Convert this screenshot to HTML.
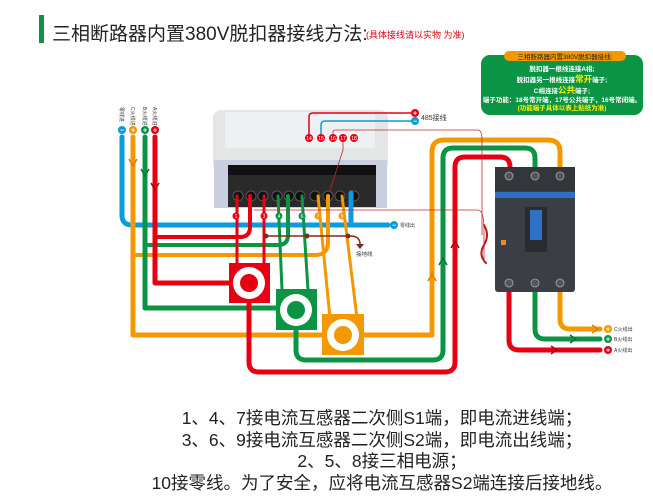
<!DOCTYPE html>
<html><head><meta charset="utf-8"><style>
html,body{margin:0;padding:0;background:#fff;width:653px;height:500px;overflow:hidden}
svg{display:block}
text{font-family:"Liberation Sans","Noto Sans CJK SC",sans-serif}
</style></head><body>
<svg width="653" height="500" viewBox="0 0 653 500" xmlns="http://www.w3.org/2000/svg">
<rect x="39" y="15" width="5" height="28" fill="#0b9444"/>
<text x="52" y="40" font-size="19" fill="#222">三相断路器内置380V脱扣器接线方法:</text>
<text x="366" y="38" font-size="9" fill="#e60012" font-family="Noto Serif CJK SC,serif">(具体接线请以实物 为准)</text>

<rect x="481" y="55" width="162" height="60" rx="9" fill="#0b9444"/>
<rect x="504" y="51" width="122" height="10" rx="5" fill="#f39800"/>
<text x="565" y="59" font-size="6.5" fill="#222" text-anchor="middle">三相断路器内置380V脱扣器接线:</text>
<g font-size="6.5" fill="#fff" text-anchor="middle" font-weight="bold">
<text x="562" y="71">脱扣器一根线连接A相;</text>
<text x="562" y="82">脱扣器另一根线连接<tspan fill="#fff100" font-size="8.5">常开</tspan>端子;</text>
<text x="562" y="93">C相连接<tspan fill="#fff100" font-size="8.5">公共</tspan>端子;</text>
<text x="562" y="102">端子功能：18号常开端，17号公共端子，16号常闭端。</text>
<text x="562" y="110" fill="#fff100">(功能端子具体以表上贴纸为准)</text>
</g>

<rect x="213" y="110" width="175" height="62" rx="8" fill="#e4e6e6"/>
<rect x="225" y="112" width="150" height="36" fill="#eef1f4"/>
<rect x="214" y="160" width="173" height="48" fill="#c9cfde"/>
<rect x="228" y="165" width="148" height="42" fill="#2a2a2a"/>
<rect x="228" y="165" width="148" height="10" fill="#111"/>
<g fill="#111" stroke="#555" stroke-width="1">
<circle cx="238" cy="196" r="5"/><circle cx="251" cy="196" r="5"/><circle cx="263" cy="196" r="5"/><circle cx="277" cy="196" r="5"/><circle cx="289" cy="196" r="5"/><circle cx="300" cy="196" r="5"/><circle cx="315" cy="196" r="5"/><circle cx="328" cy="196" r="5"/><circle cx="340" cy="196" r="5"/><circle cx="354" cy="196" r="5"/>
</g>

<g fill="none" stroke-linecap="round" stroke-linejoin="round">
<path d="M122 137 V215 Q122 225 132 225 H388" stroke="#0a9be0" stroke-width="5"/>
<path d="M351 193 V225" stroke="#0a9be0" stroke-width="5"/>
<path d="M133 137 V335 H432 Q432 335 432 325" stroke="#f39800" stroke-width="5"/>
<path d="M133 255 H315 Q328 255 328 242 V196" stroke="#f39800" stroke-width="4"/>
<path d="M432 335 V152 Q432 140 444 140 H548 Q560 140 560 152 V168" stroke="#f39800" stroke-width="5"/>
<path d="M318 196 L330 318 M342 196 L357 318" stroke="#f39800" stroke-width="3"/>
<path d="M145 137 V308 H296" stroke="#0b9444" stroke-width="5"/>
<path d="M145 245 H278 Q288 245 288 235 V196" stroke="#0b9444" stroke-width="4"/>
<path d="M296 310 V350 Q296 360 306 360 H433 Q443 360 443 350 V158 Q443 148 453 148 H525 Q535 148 535 158 V168" stroke="#0b9444" stroke-width="5"/>
<path d="M278 196 L282 290 M302 196 L308 290" stroke="#0b9444" stroke-width="3"/>
<path d="M155 137 V283 H249" stroke="#e60012" stroke-width="5"/>
<path d="M155 237 H240 Q250 237 250 227 V196" stroke="#e60012" stroke-width="4"/>
<path d="M249 283 V362 Q249 372 259 372 H445 Q455 372 455 362 V167 Q455 157 465 157 H500 Q510 157 510 167 V168" stroke="#e60012" stroke-width="5"/>
<path d="M237 196 V265 M264 196 V265" stroke="#e60012" stroke-width="3"/>
<path d="M509 290 V340 Q509 350 519 350 H600" stroke="#e60012" stroke-width="5"/>
<path d="M535 290 V329 Q535 339 545 339 H600" stroke="#0b9444" stroke-width="5"/>
<path d="M560 290 V319 Q560 329 570 329 H600" stroke="#f39800" stroke-width="5"/>
<path d="M266 236 H350 Q360 236 360 244" stroke="#7a2e1a" stroke-width="1.5"/>
<path d="M309 138 V117 Q309 113 313 113 H413" stroke="#e60012" stroke-width="1.5"/>
<path d="M321 138 V125 Q321 121 325 121 H413" stroke="#0a9be0" stroke-width="1.5"/>
<path d="M333 138 V132 Q333 130 336 130 H478 Q482 130 482 140 V235" stroke="#c1272d" stroke-width="0.8"/>
<path d="M343 138 V150 L330 190" stroke="#c1272d" stroke-width="0.8"/>
<path d="M254 210 H478 Q484 210 484 230 V262" stroke="#c1272d" stroke-width="0.8"/>
<path d="M484 225 q6 10 0 20 q-6 10 2 18" stroke="#b71c1c" stroke-width="2"/>
</g>
<g fill="#7a2e1a"><circle cx="266" cy="236" r="2.5"/><circle cx="307" cy="236" r="2.5"/><circle cx="348" cy="236" r="2.5"/></g>
<path d="M356 244 L364 244 L360 249 Z" fill="#7a2e1a"/>
<text x="356" y="256" font-size="5.5" fill="#333">接地线</text>

<g fill="none" stroke-width="1.5">
<path d="M129 159 L133 166 L137 159" stroke="#e07b00"/>
<path d="M141 169 L145 176 L149 169" stroke="#07742f"/>
<path d="M151 183 L155 190 L159 183" stroke="#b0000e"/>
<path d="M428 281 L432 274 L436 281" stroke="#e07b00"/>
<path d="M439 265 L443 258 L447 265" stroke="#07742f"/>
<path d="M451 248 L455 241 L459 248" stroke="#b0000e"/>
<path d="M592 325 L598 329 L592 333" stroke="#e07b00"/>
<path d="M570 335 L576 339 L570 343" stroke="#07742f"/>
<path d="M551 346 L557 350 L551 354" stroke="#b0000e"/>
</g>

<rect x="229" y="263" width="41" height="40" fill="#e60012"/>
<circle cx="249" cy="283" r="16" fill="#fff"/><circle cx="249" cy="283" r="9" fill="#e60012"/>
<rect x="276" y="289" width="41" height="41" fill="#0b9444"/>
<circle cx="296" cy="310" r="16" fill="#fff"/><circle cx="296" cy="310" r="9" fill="#0b9444"/>
<rect x="322" y="314" width="42" height="41" fill="#f39800"/>
<circle cx="343" cy="335" r="16" fill="#fff"/><circle cx="343" cy="335" r="9" fill="#f39800"/>

<rect x="495" y="167" width="80" height="125" rx="3" fill="#3b3e44"/>
<rect x="495" y="167" width="80" height="24" fill="#33363b"/>
<rect x="495" y="192" width="80" height="6" fill="#2f6fc6"/>
<rect x="525" y="207" width="22" height="45" fill="#2a2c30"/>
<rect x="530" y="210" width="12" height="30" fill="#2f6fc6"/>
<rect x="501" y="240" width="5" height="5" fill="#e98a2a"/>
<g fill="#555" stroke="#aaa" stroke-width="0.8">
<circle cx="509" cy="176" r="4"/><circle cx="535" cy="176" r="4"/><circle cx="560" cy="176" r="4"/>
<circle cx="509" cy="283" r="4"/><circle cx="535" cy="283" r="4"/><circle cx="560" cy="283" r="4"/>
</g>

<g font-size="7" font-weight="bold" text-anchor="middle" fill="#fff">
<circle cx="122" cy="130" r="4" fill="#0a9be0"/><text x="122" y="132.5">−</text>
<circle cx="133" cy="130" r="4" fill="#f39800"/><text x="133" y="132.5">+</text>
<circle cx="145" cy="130" r="4" fill="#0b9444"/><text x="145" y="132.5">+</text>
<circle cx="155" cy="130" r="4" fill="#e60012"/><text x="155" y="132.5">+</text>
<circle cx="415" cy="113" r="4" fill="#e60012"/><text x="415" y="115.5">+</text>
<circle cx="415" cy="121" r="4" fill="#0a9be0"/><text x="415" y="123.5">−</text>
<circle cx="394" cy="225" r="4" fill="#0a9be0"/><text x="394" y="227.5">−</text>
<circle cx="608" cy="329" r="4" fill="#f39800"/><text x="608" y="331.5">+</text>
<circle cx="608" cy="339" r="4" fill="#0b9444"/><text x="608" y="341.5">+</text>
<circle cx="608" cy="350" r="4" fill="#e60012"/><text x="608" y="352.5">+</text>
</g>
<g font-size="5" fill="#fff" text-anchor="middle">
<circle cx="309" cy="138" r="4" fill="#e60012"/><text x="309" y="140">14</text>
<circle cx="321" cy="138" r="4" fill="#e60012"/><text x="321" y="140">15</text>
<circle cx="333" cy="138" r="4" fill="#e60012"/><text x="333" y="140">16</text>
<circle cx="343" cy="138" r="4" fill="#e60012"/><text x="343" y="140">17</text>
<circle cx="354" cy="138" r="4" fill="#e60012"/><text x="354" y="140">18</text>
<circle cx="236" cy="216" r="3.5" fill="#e60012"/><text x="236" y="218">1</text>
<circle cx="264" cy="216" r="3.5" fill="#e60012"/><text x="264" y="218">3</text>
<circle cx="279" cy="216" r="3.5" fill="#0b9444"/><text x="279" y="218">4</text>
<circle cx="302" cy="216" r="3.5" fill="#0b9444"/><text x="302" y="218">6</text>
<circle cx="318" cy="216" r="3.5" fill="#f39800"/><text x="318" y="218">7</text>
<circle cx="342" cy="216" r="3.5" fill="#f39800"/><text x="342" y="218">9</text>
</g>
<g font-size="5" fill="#333">
<text x="120" y="107" transform="rotate(90 120 107)">零线进</text>
<text x="131" y="107" transform="rotate(90 131 107)">C火线进</text>
<text x="143" y="107" transform="rotate(90 143 107)">B火线进</text>
<text x="153" y="107" transform="rotate(90 153 107)">A火线进</text>
<text x="400" y="227">零线出</text>
<text x="614" y="331">C火线出</text>
<text x="614" y="341">B火线出</text>
<text x="614" y="352">A火线出</text>
</g>
<text x="421" y="120" font-size="7" fill="#333">485接线</text>

<g font-size="17.5" fill="#222" text-anchor="middle">
<text x="382" y="424">1、4、7接电流互感器二次侧S1端，即电流进线端；</text>
<text x="382" y="446">3、6、9接电流互感器二次侧S2端，即电流出线端；</text>
<text x="382" y="467">2、5、8接三相电源；</text>
<text x="382" y="489">10接零线。为了安全，应将电流互感器S2端连接后接地线。</text>
</g>
</svg>
</body></html>
